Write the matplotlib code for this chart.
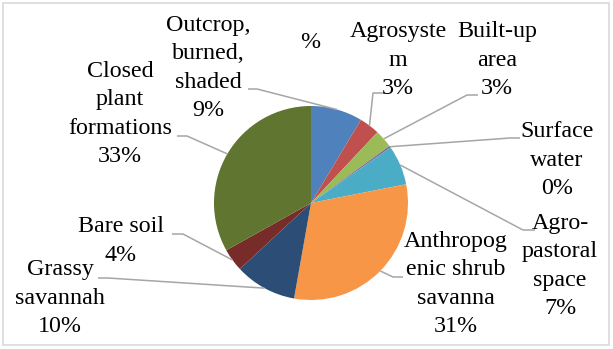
import numpy as np
import matplotlib.pyplot as plt
from matplotlib.patches import Rectangle

# data
labels = ["Outcrop,\nburned,\nshaded", "Agrosyste\nm", "Built-up\narea", "Surface\nwater",
          "Agro-\npastoral\nspace", "Anthropog\nenic shrub\nsavanna", "Grassy\nsavannah",
          "Bare soil", "Closed\nplant\nformations"]
values = [8.6, 3.4, 3.0, 0.3, 6.6, 30.9, 10.3, 3.8, 33.1]
colors = ["#4F81BD", "#C0504D", "#9BBB59", "#8064A2", "#4BACC6",
          "#F79646", "#2C4D75", "#772C2A", "#5F7530"]
title = "%"

W, H = 613, 349
cx, cy, r = 311, 203, 97   # pie centre / radius in pixel (top-down) coords

# label block centres and leader line anchor (text side, then stub end)
text_pos = [(208, 68), (398, 60), (497, 60), (557, 160), (560, 266),
            (456, 284), (60, 298), (121, 241), (120, 114)]
anchors = [((248, 89), (257, 89)), ((385, 93), (373, 93)), ((478, 95), (467, 95)),
           ((520, 138), (510, 138)), ((535, 230), (523, 230)), ((403, 277), (393, 277)),
           ((98, 278), (108, 278)), ((172, 234), (183, 234)), ((177, 136), (187, 136))]

def Y(y):
    return H - y

fig = plt.figure(figsize=(W / 100, H / 100), dpi=100)
ax = fig.add_axes([0, 0, 1, 1])

wedges, _ = ax.pie(values, colors=colors, startangle=90, counterclock=False,
                   center=(cx, Y(cy)), radius=r, wedgeprops=dict(linewidth=0))

font = dict(family="Liberation Serif", fontsize=17.3, color="black")

for w, lab, v, (tx, ty), (a0, a1) in zip(wedges, labels, values, text_pos, anchors):
    mid = np.deg2rad((w.theta1 + w.theta2) / 2)
    ex = w.center[0] + w.r * np.cos(mid)
    ey = w.center[1] + w.r * np.sin(mid)
    ax.plot([a0[0], a1[0], ex], [Y(a0[1]), Y(a1[1]), ey], color="#a6a6a6", lw=1.1,
            solid_capstyle="butt", zorder=1)
    ax.text(tx, Y(ty), f"{lab}\n{round(v)}%", ha="center", va="center",
            linespacing=1.46, **font)

ax.text(310, Y(42), title, ha="center", va="center", **font)

ax.add_patch(Rectangle((3, Y(345)), 606, 342, fill=False, edgecolor="#d9d9d9", lw=1.2))

ax.set_xlim(0, W)
ax.set_ylim(0, H)
ax.set_aspect("auto")
ax.axis("off")

fig.savefig("out.png", dpi=100)
